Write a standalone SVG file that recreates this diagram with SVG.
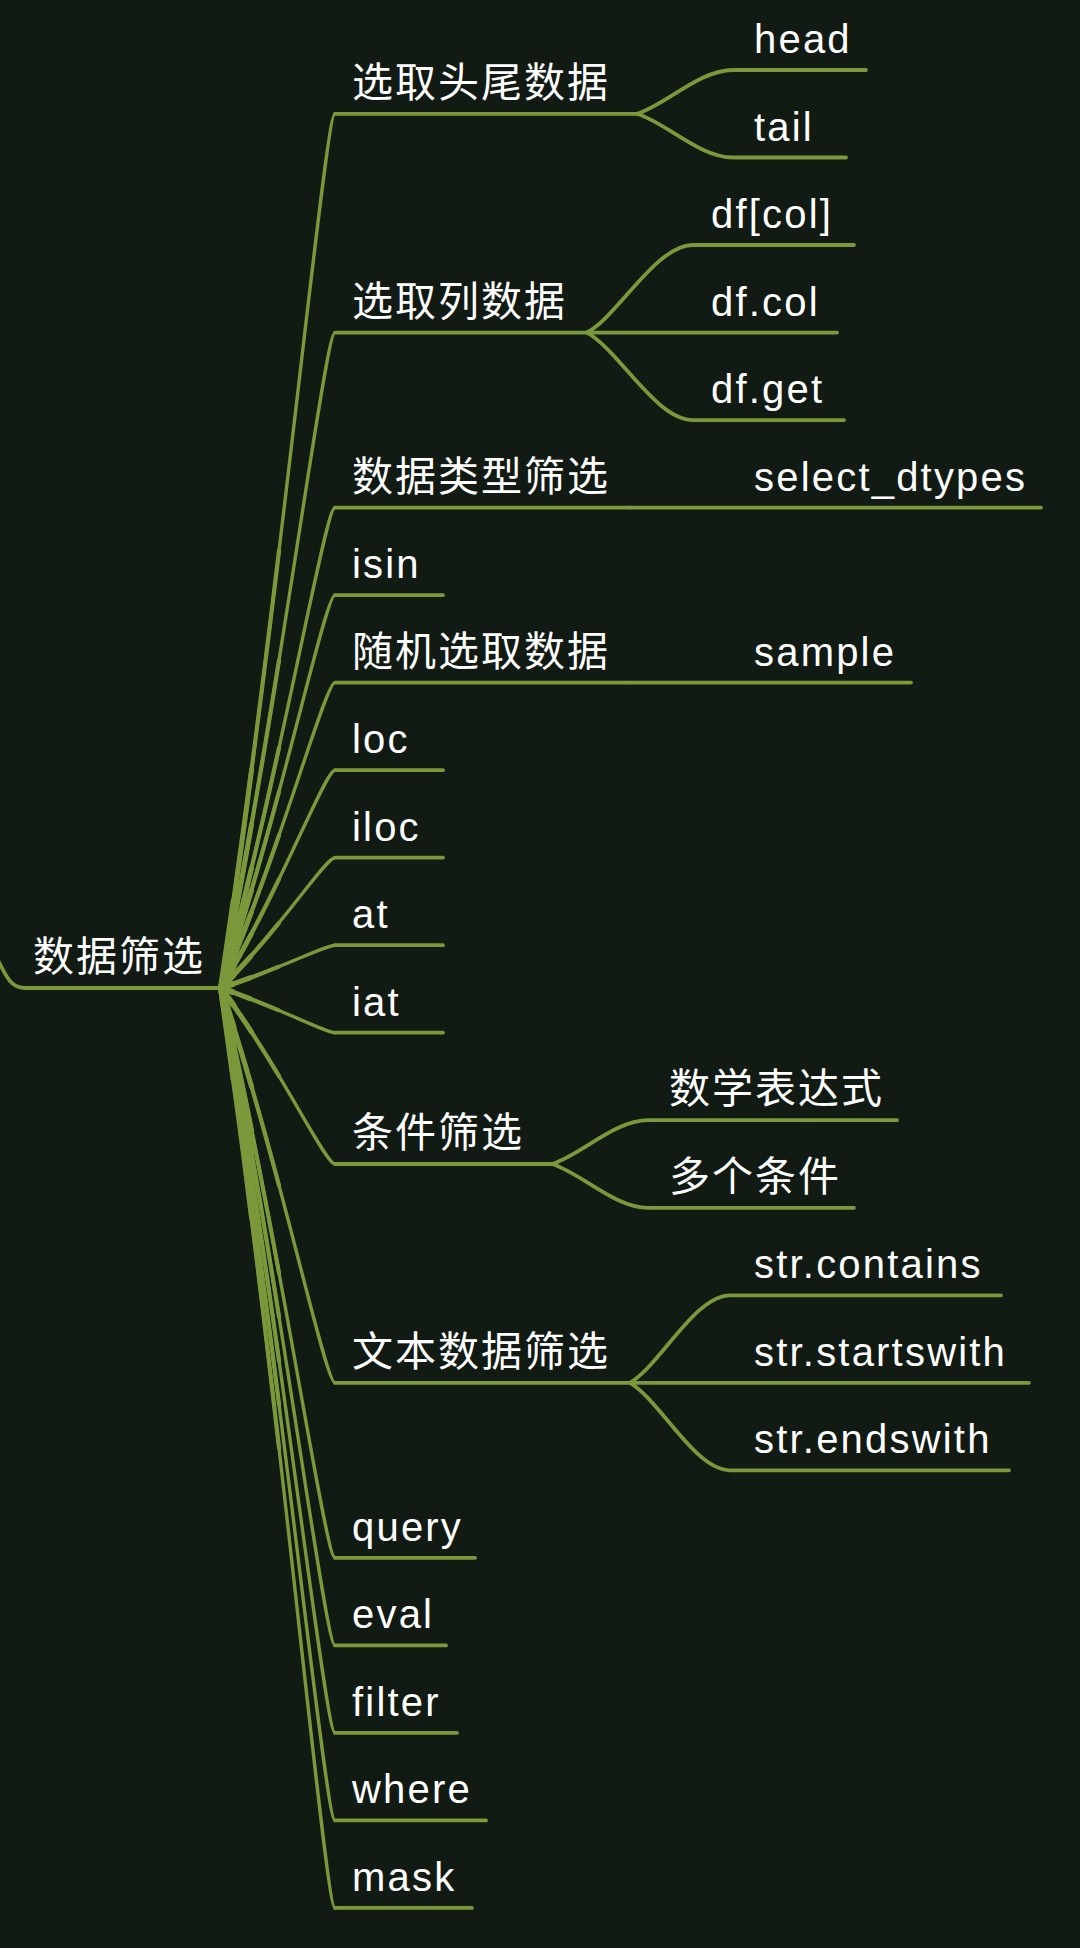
<svg xmlns="http://www.w3.org/2000/svg" xmlns:xlink="http://www.w3.org/1999/xlink" width="1080" height="1948" viewBox="0 0 1080 1948">
<style>
.bg{fill:#111a13}
.ln{fill:none;stroke:#7b983b;stroke-linecap:round;stroke-linejoin:round}
.h{stroke-width:3.8}
.w1{stroke-width:3.4}
.w2{stroke-width:4.2;stroke-dasharray:50 200}
.w3{stroke-width:5;stroke-dasharray:25 200}
.w4{stroke-width:6;stroke-dasharray:10 200}
.cj{font-family:"Noto Sans CJK SC","Noto Sans",sans-serif;font-size:41px;letter-spacing:2px;fill:#ffffff}
.la{font-family:"Liberation Sans",Arial,sans-serif;font-size:40px;letter-spacing:2.2px;fill:#ffffff}
</style>
<defs>
<path id="c1" pathLength="100" d="M221 988 C281.4 585.9 325 113.8 335 113.8"/>
<path id="c2" pathLength="100" d="M221 988 C281.4 686.5 325 332.6 335 332.6"/>
<path id="c3" pathLength="100" d="M221 988 C281.4 767 325 507.6 335 507.6"/>
<path id="c4" pathLength="100" d="M221 988 C281.4 807.3 325 595.1 335 595.1"/>
<path id="c5" pathLength="100" d="M221 988 C281.4 847.5 325 682.6 335 682.6"/>
<path id="c6" pathLength="100" d="M221 988 C281.4 887.8 325 770.2 335 770.2"/>
<path id="c7" pathLength="100" d="M221 988 C281.4 928.1 325 857.7 335 857.7"/>
<path id="c8" pathLength="100" d="M221 988 C281.4 968.3 325 945.2 335 945.2"/>
<path id="c9" pathLength="100" d="M221 988 C281.4 1008.6 325 1032.7 335 1032.7"/>
<path id="c10" pathLength="100" d="M221 988 C281.4 1069 325 1164 335 1164"/>
<path id="c11" pathLength="100" d="M221 988 C281.4 1169.6 325 1382.8 335 1382.8"/>
<path id="c12" pathLength="100" d="M221 988 C281.4 1250.1 325 1557.8 335 1557.8"/>
<path id="c13" pathLength="100" d="M221 988 C281.4 1290.4 325 1645.4 335 1645.4"/>
<path id="c14" pathLength="100" d="M221 988 C281.4 1330.7 325 1732.9 335 1732.9"/>
<path id="c15" pathLength="100" d="M221 988 C281.4 1370.9 325 1820.4 335 1820.4"/>
<path id="c16" pathLength="100" d="M221 988 C281.4 1411.2 325 1907.9 335 1907.9"/>
</defs>
<rect class="bg" x="0" y="0" width="1080" height="1948"/>
<g id="connectors">
<path class="ln h" d="M-4 956 C6 976 10 988 26 988 L221 988"/>
<g class="ln w1">
<use href="#c1"/><use href="#c2"/><use href="#c3"/><use href="#c4"/><use href="#c5"/><use href="#c6"/><use href="#c7"/><use href="#c8"/><use href="#c9"/><use href="#c10"/><use href="#c11"/><use href="#c12"/><use href="#c13"/><use href="#c14"/><use href="#c15"/><use href="#c16"/>
</g>
<g class="ln w2">
<use href="#c1"/><use href="#c2"/><use href="#c3"/><use href="#c4"/><use href="#c5"/><use href="#c6"/><use href="#c7"/><use href="#c8"/><use href="#c9"/><use href="#c10"/><use href="#c11"/><use href="#c12"/><use href="#c13"/><use href="#c14"/><use href="#c15"/><use href="#c16"/>
</g>
<g class="ln w3">
<use href="#c1"/><use href="#c2"/><use href="#c3"/><use href="#c4"/><use href="#c5"/><use href="#c6"/><use href="#c7"/><use href="#c8"/><use href="#c9"/><use href="#c10"/><use href="#c11"/><use href="#c12"/><use href="#c13"/><use href="#c14"/><use href="#c15"/><use href="#c16"/>
</g>
<g class="ln w4">
<use href="#c1"/><use href="#c2"/><use href="#c3"/><use href="#c4"/><use href="#c5"/><use href="#c6"/><use href="#c7"/><use href="#c8"/><use href="#c9"/><use href="#c10"/><use href="#c11"/><use href="#c12"/><use href="#c13"/><use href="#c14"/><use href="#c15"/><use href="#c16"/>
</g>
<g class="ln h">
<path d="M335 113.8 H637"/>
<path d="M335 332.6 H587"/>
<path d="M335 507.6 H630"/>
<path d="M335 595.1 H443"/>
<path d="M335 682.6 H630"/>
<path d="M335 770.2 H443"/>
<path d="M335 857.7 H443"/>
<path d="M335 945.2 H443"/>
<path d="M335 1032.7 H443"/>
<path d="M335 1164 H552"/>
<path d="M335 1382.8 H630"/>
<path d="M335 1557.8 H475"/>
<path d="M335 1645.4 H446"/>
<path d="M335 1732.9 H457"/>
<path d="M335 1820.4 H486"/>
<path d="M335 1907.9 H472"/>
<path d="M637 113.8 C665.8 105 699.4 70 733 70 H866"/>
<path d="M637 113.8 C665.8 122.5 699.4 157.5 733 157.5 H846"/>
<path d="M587 332.6 C618.8 315.1 655.9 245 693 245 H854"/>
<path d="M587 332.6 H837"/>
<path d="M587 332.6 C618.8 350.1 655.9 420.1 693 420.1 H844"/>
<path d="M630 507.6 H1041"/>
<path d="M630 682.6 H911"/>
<path d="M552 1164 C580.8 1155.2 614.4 1120.2 648 1120.2 H897"/>
<path d="M552 1164 C580.8 1172.8 614.4 1207.8 648 1207.8 H854"/>
<path d="M630 1382.8 C660 1365.3 695 1295.3 730 1295.3 H1001"/>
<path d="M630 1382.8 H1029"/>
<path d="M630 1382.8 C660 1400.3 695 1470.3 730 1470.3 H1009"/>
</g>
</g>
<g id="root"><text class="cj" x="33" y="971">数据筛选</text></g>
<g id="n-head-tail"><text class="cj" x="352" y="96.8">选取头尾数据</text></g>
<g id="n-head"><text class="la" x="754" y="53">head</text></g>
<g id="n-tail"><text class="la" x="754" y="140.5">tail</text></g>
<g id="n-cols"><text class="cj" x="352" y="315.6">选取列数据</text></g>
<g id="n-dfcol1"><text class="la" x="711" y="228">df[col]</text></g>
<g id="n-dfcol2"><text class="la" x="711" y="315.6">df.col</text></g>
<g id="n-dfget"><text class="la" x="711" y="403.1">df.get</text></g>
<g id="n-dtype"><text class="cj" x="352" y="490.6">数据类型筛选</text></g>
<g id="n-select-dtypes"><text class="la" x="754" y="490.6">select_dtypes</text></g>
<g id="n-isin"><text class="la" x="352" y="578.1">isin</text></g>
<g id="n-random"><text class="cj" x="352" y="665.6">随机选取数据</text></g>
<g id="n-sample"><text class="la" x="754" y="665.6">sample</text></g>
<g id="n-loc"><text class="la" x="352" y="753.2">loc</text></g>
<g id="n-iloc"><text class="la" x="352" y="840.7">iloc</text></g>
<g id="n-at"><text class="la" x="352" y="928.2">at</text></g>
<g id="n-iat"><text class="la" x="352" y="1015.7">iat</text></g>
<g id="n-cond"><text class="cj" x="352" y="1147">条件筛选</text></g>
<g id="n-math"><text class="cj" x="669" y="1103.2">数学表达式</text></g>
<g id="n-multi"><text class="cj" x="669" y="1190.8">多个条件</text></g>
<g id="n-text"><text class="cj" x="352" y="1365.8">文本数据筛选</text></g>
<g id="n-contains"><text class="la" x="754" y="1278.3">str.contains</text></g>
<g id="n-startswith"><text class="la" x="754" y="1365.8">str.startswith</text></g>
<g id="n-endswith"><text class="la" x="754" y="1453.3">str.endswith</text></g>
<g id="n-query"><text class="la" x="352" y="1540.8">query</text></g>
<g id="n-eval"><text class="la" x="352" y="1628.4">eval</text></g>
<g id="n-filter"><text class="la" x="352" y="1715.9">filter</text></g>
<g id="n-where"><text class="la" x="352" y="1803.4">where</text></g>
<g id="n-mask"><text class="la" x="352" y="1890.9">mask</text></g>
</svg>
